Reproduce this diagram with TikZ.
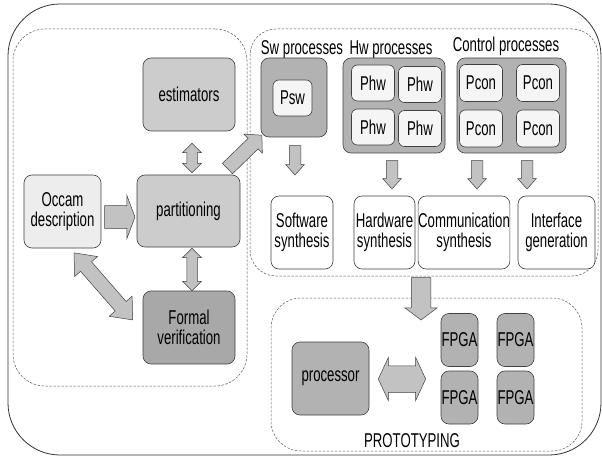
\documentclass[tikz,border=0pt]{standalone}
\usepackage{fontspec}
\setmainfont[FakeStretch=0.66]{Liberation Sans}
\usetikzlibrary{shapes.arrows,calc}
\definecolor{paleBox}{gray}{0.93}
\definecolor{lightBox}{gray}{0.8}
\definecolor{midBox}{gray}{0.7}
\definecolor{darkBox}{gray}{0.66}
\definecolor{innerBox}{gray}{0.96}
\definecolor{arrowFill}{gray}{0.76}
\tikzset{
  box/.style args={#1x#2}{
    draw=black!75, line width=0.6pt, rounded corners=8pt, inner sep=0pt, align=center,
    minimum width=#1pt, minimum height=#2pt, font=\fontsize{20}{20.5}\selectfont
  },
  region/.style args={#1x#2}{
    draw=black!65, line width=0.5pt, dash pattern=on 2.5pt off 1.5pt,
    rounded corners=30pt, inner sep=0pt, minimum width=#1pt, minimum height=#2pt
  },
  caption/.style={inner sep=0pt, font=\fontsize{20}{20.5}\selectfont},
  fatarrow/.style={single arrow, draw=black!75, fill=arrowFill, line width=0.5pt, inner xsep=0pt},
  fatdouble/.style={double arrow, draw=black!75, fill=arrowFill, line width=0.5pt, inner xsep=0pt},
  smalldown/.style={inner ysep=5.5pt, single arrow head extend=3.5pt, single arrow tip angle=84},
  thinboth/.style={inner ysep=5pt, double arrow head extend=4pt, double arrow tip angle=90}
}
\newcommand\fatlink[3][]{%
  \path let \p1=($(#3)-(#2)$), \n1={atan2(\y1,\x1)}, \n2={veclen(\x1,\y1)} in
    node[fatarrow,#1,rotate=\n1,minimum height=\n2,anchor=tail] at (#2) {};}
\newcommand\fatboth[3][]{%
  \path let \p1=($(#3)-(#2)$), \n1={atan2(\y1,\x1)}, \n2={veclen(\x1,\y1)} in
    node[fatdouble,#1,rotate=\n1,minimum height=\n2] at ($(#2)!0.5!(#3)$) {};}

\begin{document}
\begin{tikzpicture}[x=1pt,y=-1pt]
  \useasboundingbox (0,0) rectangle (602,457);
  \node[region=593x451, solid, draw=black!80, line width=0.8pt, rounded corners=52pt] (frame) at (304.5,229.5) {};
  \node[region=234x357, rounded corners=32pt] (design) at (130,207.5) {};
  \node[region=348x247, rounded corners=26pt] (synthesis) at (424,152.5) {};
  \node[region=311x153] (proto) at (426.5,374.5) {};

  \node[box=92x73, fill=lightBox] (estim) at (189,94.5) {estimators};
  \node[box=103x72, fill=lightBox] (part) at (188.5,211) {partitioning};
  \node[box=77x73, fill=paleBox] (occam) at (62.5,211.5) {Occam\\description};
  \node[box=92x73, fill=darkBox] (formal) at (189,327.5) {Formal\\verification};

  \node[caption] (swcap) at (302,50) {Sw processes};
  \node[caption] (hwcap) at (391,50) {Hw processes};
  \node[caption] (ctlcap) at (506,46.5) {Control processes};
  \node[box=66x79, fill=midBox] (swbox) at (294,97.5) {};
  \node[box=39x36, fill=innerBox, rounded corners=6pt] (psw) at (292.5,98) {Psw};
  \node[box=102x95, fill=midBox] (hwbox) at (394,105.5) {};
  \foreach \i/\p in {1/{373,83},2/{420,84.5},3/{373,127},4/{420,128.5}}
    \node[box=43x36, fill=innerBox, rounded corners=6pt] (phw\i) at (\p) {Phw};
  \node[box=109x95, fill=midBox] (ctlbox) at (511.5,105.5) {};
  \foreach \i/\p in {1/{481,83},2/{538,83},3/{481,128.5},4/{538,128.5}}
    \node[box=43x37, fill=innerBox, rounded corners=6pt] (pcon\i) at (\p) {Pcon};

  \node[box=62x73, fill=white] (soft) at (302,232.5) {Software\\synthesis};
  \node[box=61x73, fill=white] (hard) at (384.5,232.5) {Hardware\\synthesis};
  \node[box=88x73, fill=white] (comm) at (464,232.5) {Communication\\synthesis};
  \node[box=77x73, fill=white] (iface) at (556.5,232.5) {Interface\\generation};

  \node[box=77x73, fill=midBox] (proc) at (330.5,378.5) {processor};
  \foreach \i/\p in {1/{459.5,340},2/{515.5,340},3/{459.5,397.5},4/{515.5,397.5}}
    \node[box=37x53, fill=midBox] (fpga\i) at (\p) {FPGA};
  \node[caption] (protocap) at (412,441) {PROTOTYPING};

  \coordinate (o1) at ($(occam.east)+(3,5.5)$);
  \coordinate (p1) at ($(part.west)+(-2,6)$);
  \fatlink[inner ysep=11pt, single arrow head extend=10.5pt, single arrow tip angle=139]{o1}{p1}
  \coordinate (e1) at ($(estim.south)+(3,12)$);
  \coordinate (p2) at ($(part.north)+(3.5,-2)$);
  \fatboth[thinboth]{e1}{p2}
  \coordinate (p3) at ($(part.south)+(3.5,1)$);
  \coordinate (f1) at ($(formal.north)+(3,0)$);
  \fatboth[thinboth]{p3}{f1}
  \coordinate (o2) at ($(occam.south)+(11.5,4.5)$);
  \coordinate (f2) at ($(formal.west)+(-10,-7.5)$);
  \fatboth[inner ysep=7pt, double arrow head extend=8pt, double arrow tip angle=80]{o2}{f2}
  \coordinate (p4) at ($(part.north east)+(-13,-6)$);
  \coordinate (s1) at ($(swbox.south west)+(1,-2)$);
  \fatlink[inner ysep=7pt, single arrow head extend=6pt, single arrow tip angle=95]{p4}{s1}

  \coordinate (s2) at ($(swbox.south)+(1,8)$);
  \coordinate (s3) at ($(soft.north)+(-7,-21)$);
  \fatlink[smalldown]{s2}{s3}
  \coordinate (h1) at ($(hwbox.south)+(-2,7)$);
  \coordinate (h2) at ($(hard.north)+(7.5,-7)$);
  \fatlink[smalldown]{h1}{h2}
  \coordinate (c1) at ($(ctlbox.south)+(-34.5,7)$);
  \coordinate (c2) at ($(comm.north)+(13,-7)$);
  \fatlink[smalldown]{c1}{c2}
  \coordinate (c3) at ($(ctlbox.south)+(15.5,7)$);
  \coordinate (c4) at ($(iface.north)+(-29.5,-7)$);
  \fatlink[smalldown]{c3}{c4}

  \coordinate (t1) at ($(synthesis.south)+(-3,1)$);
  \coordinate (t2) at ($(proto.north)+(-5.5,22)$);
  \fatlink[inner ysep=9.5pt, single arrow head extend=6.5pt, single arrow tip angle=106]{t1}{t2}
  \coordinate (r1) at ($(proc.east)+(9,0.5)$);
  \coordinate (r2) at ($(fpga3.west)+(-15,-18.5)$);
  \fatboth[inner ysep=13pt, double arrow head extend=8.5pt, double arrow tip angle=130]{r1}{r2}
\end{tikzpicture}
\end{document}
